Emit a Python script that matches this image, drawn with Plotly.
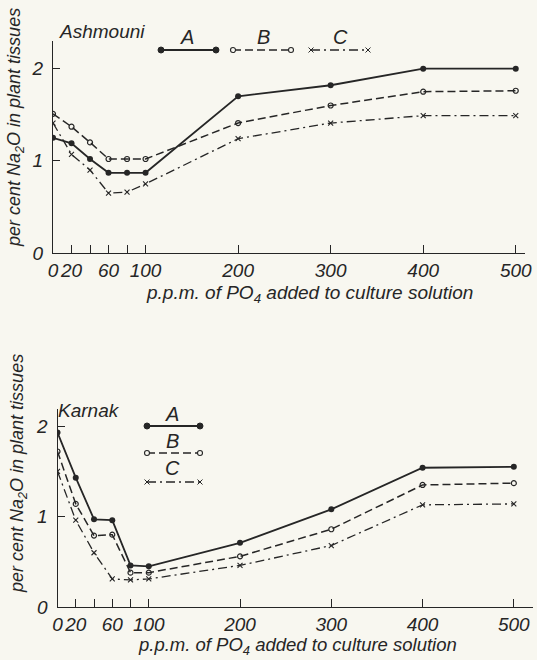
import plotly.graph_objects as go

# ---------------- data ----------------
x_top = [0, 20, 40, 60, 80, 100, 200, 300, 400, 500]
ash_A = [1.25, 1.19, 1.02, 0.87, 0.87, 0.87, 1.70, 1.82, 2.00, 2.00]
ash_B = [1.51, 1.37, 1.20, 1.02, 1.02, 1.02, 1.41, 1.60, 1.75, 1.76]
ash_C = [1.41, 1.07, 0.90, 0.65, 0.66, 0.75, 1.24, 1.41, 1.49, 1.49]

x_bot = [0, 20, 40, 60, 80, 100, 200, 300, 400, 500]
kar_A = [1.93, 1.43, 0.97, 0.96, 0.46, 0.45, 0.71, 1.08, 1.54, 1.55]
kar_B = [1.72, 1.14, 0.79, 0.80, 0.38, 0.38, 0.56, 0.86, 1.35, 1.37]
kar_C = [1.50, 0.96, 0.60, 0.31, 0.30, 0.31, 0.46, 0.68, 1.13, 1.14]

tick_vals = [0, 20, 60, 100, 200, 300, 400, 500]
tick_text = ["0", "20", "60", "100", "200", "300", "400", "500"]
minor_vals = [40, 80]
y_ticks = [0, 1, 2]

W, H = 537, 660
INK = "#262626"
BG = "#f8f7f0"
FONT = "Liberation Sans"

def px(x):
    return x / W

def py(y):
    return 1 - y / H

styles = {
    "A": dict(line=dict(color=INK, width=1.8), marker=dict(symbol="circle", size=6, color=INK)),
    "B": dict(line=dict(color=INK, width=1.5, dash="8px,4px"),
              marker=dict(symbol="circle-open", size=5, color=INK, line=dict(width=1.2, color=INK))),
    "C": dict(line=dict(color=INK, width=1.3, dash="9px,4px,2px,4px"),
              marker=dict(symbol="x-thin-open", size=5, color=INK, line=dict(width=1.1, color=INK))),
}

fig = go.Figure()
for name, ys in (("A", ash_A), ("B", ash_B), ("C", ash_C)):
    fig.add_trace(go.Scatter(x=x_top, y=ys, mode="lines+markers", name=name,
                             showlegend=False, xaxis="x", yaxis="y", **styles[name]))
for name, ys in (("A", kar_A), ("B", kar_B), ("C", kar_C)):
    fig.add_trace(go.Scatter(x=x_bot, y=ys, mode="lines+markers", name=name,
                             showlegend=False, xaxis="x2", yaxis="y2", **styles[name]))

tickfont = dict(family=FONT, size=19, color=INK, style="italic")
common_x = dict(tickmode="array", tickvals=tick_vals, ticktext=tick_text, ticks="inside",
                ticklen=8, tickwidth=1, tickcolor=INK, showline=True, linecolor=INK,
                linewidth=1.2, showgrid=False, zeroline=False, tickfont=tickfont,
                tickangle=0, ticklabelstandoff=0, automargin=False,
                minor=dict(tickmode="array", tickvals=minor_vals, ticks="inside",
                           ticklen=8, tickwidth=1, tickcolor=INK, showgrid=False))
common_y = dict(tickmode="array", tickvals=y_ticks, ticks="inside", ticklen=7,
                tickwidth=1, tickcolor=INK, showline=True, linecolor=INK, linewidth=1.2,
                showgrid=False, zeroline=False, tickfont=tickfont, ticklabelstandoff=5,
                automargin=False)

fig.update_layout(
    width=W, height=H,
    margin=dict(l=0, r=0, t=0, b=0),
    paper_bgcolor=BG, plot_bgcolor=BG,
    xaxis=dict(domain=[px(53), px(525)], range=[0, 510], anchor="y", **common_x),
    yaxis=dict(domain=[py(253), py(41)], range=[0, 2.3], anchor="x", **common_y),
    xaxis2=dict(domain=[px(57.5), px(533)], range=[0, 521], anchor="y2", **common_x),
    yaxis2=dict(domain=[py(607), py(409)], range=[0, 2.19], anchor="x2", **common_y),
)

ann_font = dict(family=FONT, size=18, color=INK, style="italic")
title_font = dict(family=FONT, size=19, color=INK, style="italic")
annotations = [
    dict(text="per cent Na<sub>2</sub>O in plant tissues", x=px(15), y=py(128), textangle=-90),
    dict(text="p.p.m. of PO<sub>4</sub> added to culture solution", x=px(310), y=py(294),
         font=title_font),
    dict(text="Ashmouni", x=px(102), y=py(32), font=title_font),
    dict(text="per cent Na<sub>2</sub>O in plant tissues", x=px(18), y=py(474), textangle=-90),
    dict(text="p.p.m. of PO<sub>4</sub> added to culture solution", x=px(297), y=py(646),
         font=dict(family=FONT, size=18.5, color=INK, style="italic")),
    dict(text="Karnak", x=px(89), y=py(410), font=title_font),
]
for a in annotations:
    a.setdefault("font", ann_font)
    fig.add_annotation(xref="paper", yref="paper", showarrow=False,
                       xanchor="center", yanchor="middle", **a)

# --------- hand-drawn style legend keys ---------
def legend_key(name, x0, x1, y, lx, ly):
    st = styles[name]
    dash = st["line"].get("dash", "solid")
    fig.add_shape(type="line", xref="paper", yref="paper", x0=px(x0), x1=px(x1),
                  y0=py(y), y1=py(y), line=dict(color=INK, width=st["line"]["width"], dash=dash))
    for xe in (x0, x1):
        if name == "A":
            fig.add_shape(type="circle", xref="paper", yref="paper",
                          x0=px(xe - 3), x1=px(xe + 3), y0=py(y + 3), y1=py(y - 3),
                          fillcolor=INK, line=dict(color=INK, width=1))
        elif name == "B":
            fig.add_shape(type="circle", xref="paper", yref="paper",
                          x0=px(xe - 2.5), x1=px(xe + 2.5), y0=py(y + 2.5), y1=py(y - 2.5),
                          fillcolor=BG, line=dict(color=INK, width=1.1))
        else:
            for s in (1, -1):
                fig.add_shape(type="line", xref="paper", yref="paper",
                              x0=px(xe - 2.5), x1=px(xe + 2.5),
                              y0=py(y - 2.5 * s), y1=py(y + 2.5 * s),
                              line=dict(color=INK, width=1))
    fig.add_annotation(text=name, xref="paper", yref="paper", x=px(lx), y=py(ly),
                       showarrow=False, font=dict(family=FONT, size=20, color=INK, style="italic"),
                       xanchor="center", yanchor="middle")

# top (Ashmouni) legend, horizontal
legend_key("A", 161, 216, 50, 187, 37)
legend_key("B", 233, 291, 50, 263, 37)
legend_key("C", 311, 368, 50, 340, 37)
# bottom (Karnak) legend, stacked
legend_key("A", 147, 200, 426, 172, 414)
legend_key("B", 147, 200, 453, 172, 441)
legend_key("C", 147, 200, 482, 172, 468)

fig.write_html("out.html")
